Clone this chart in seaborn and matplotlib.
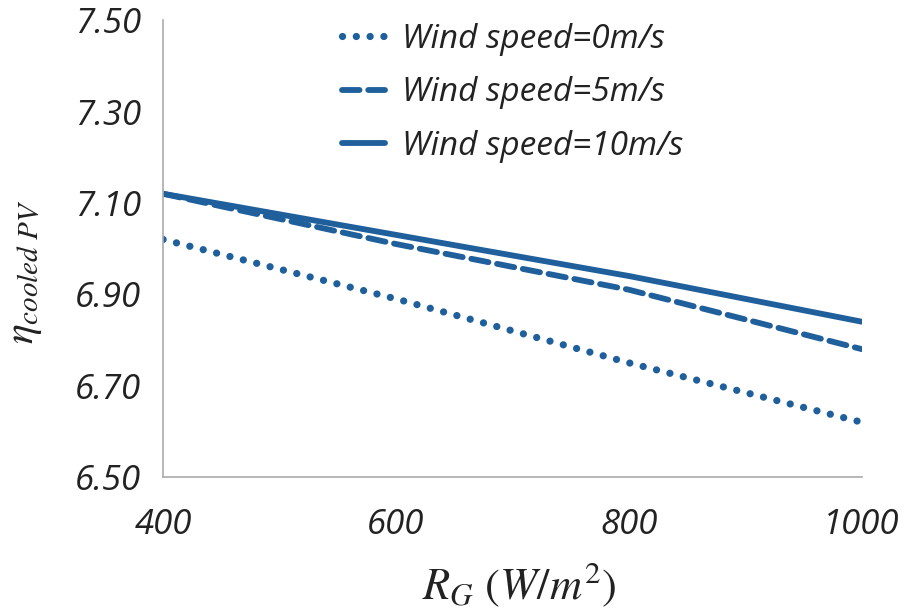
import pandas as pd
import matplotlib.pyplot as plt
import seaborn as sns

# Data
RG = [400, 600, 800, 1000]
eta_0 = [7.02, 6.89, 6.75, 6.62]
eta_5 = [7.12, 7.01, 6.91, 6.78]
eta_10 = [7.12, 7.03, 6.94, 6.84]
labels = ['Wind speed=0m/s', 'Wind speed=5m/s', 'Wind speed=10m/s']
y_ticks = [6.50, 6.70, 6.90, 7.10, 7.30, 7.50]
x_ticks = [400, 600, 800, 1000]

COLOR = '#1F5F9C'
LW = 4.2
LW_DOT = 5.2

sns.set_theme(style='white')
plt.rcParams['font.family'] = ['Open Sans', 'DejaVu Sans']
plt.rcParams['mathtext.fontset'] = 'stix'

df = pd.DataFrame({
    'RG': RG * 3,
    'eta': eta_0 + eta_5 + eta_10,
    'wind': [labels[0]] * 4 + [labels[1]] * 4 + [labels[2]] * 4,
})

fig = plt.figure(figsize=(9.06, 6.10), dpi=100)
ax = fig.add_axes([0.18, 0.218, 0.771, 0.749])

dashes = {labels[0]: (0.01, 1.9), labels[1]: (3.0, 1.5), labels[2]: ''}
sns.lineplot(data=df, x='RG', y='eta', style='wind', dashes=dashes,
             color=COLOR, linewidth=LW, ax=ax, legend=True)

# data lines come in style order: 0, 5, 10 m/s
data_lines = [l for l in ax.lines if len(l.get_xdata()) > 0]
for i, line in enumerate(data_lines):
    line.set_dash_capstyle('round')
    line.set_linewidth(LW_DOT if i == 0 else LW)

ax.set_xlim(400, 1000)
ax.set_ylim(6.5, 7.5)
ax.set_xticks(x_ticks)
ax.set_yticks(y_ticks)
ax.set_xticklabels([str(v) for v in x_ticks], fontsize=25, style='italic', color='#222222')
ax.set_yticklabels([f'{v:.2f}' for v in y_ticks], fontsize=25, style='italic', color='#222222')
ax.tick_params(axis='x', pad=22, length=0)
ax.tick_params(axis='y', pad=16, length=0)

for side in ['top', 'right']:
    ax.spines[side].set_visible(False)
for side in ['left', 'bottom']:
    ax.spines[side].set_color('#AAAAAA')
    ax.spines[side].set_linewidth(1.2)

ax.set_xlabel(r'$R_G\ (W/m^2)$', fontsize=32, color='#222222')
ax.set_ylabel(r'$\eta_{cooled\ PV}$', fontsize=30, color='#222222')
ax.xaxis.set_label_coords(0.51, -0.185)
ax.yaxis.set_label_coords(-0.17, 0.45)

leg = ax.legend(loc='upper center', bbox_to_anchor=(0.5, 1.06), frameon=False,
                fontsize=24, handlelength=1.3, handletextpad=0.5, labelspacing=0.62)
for t in leg.get_texts():
    t.set_style('italic')
    t.set_color('#222222')
for i, h in enumerate(leg.get_lines()):
    h.set_color(COLOR)
    h.set_linewidth(LW_DOT if i == 0 else LW)
    h.set_dash_capstyle('round')

fig.savefig('out.png', dpi=100)
